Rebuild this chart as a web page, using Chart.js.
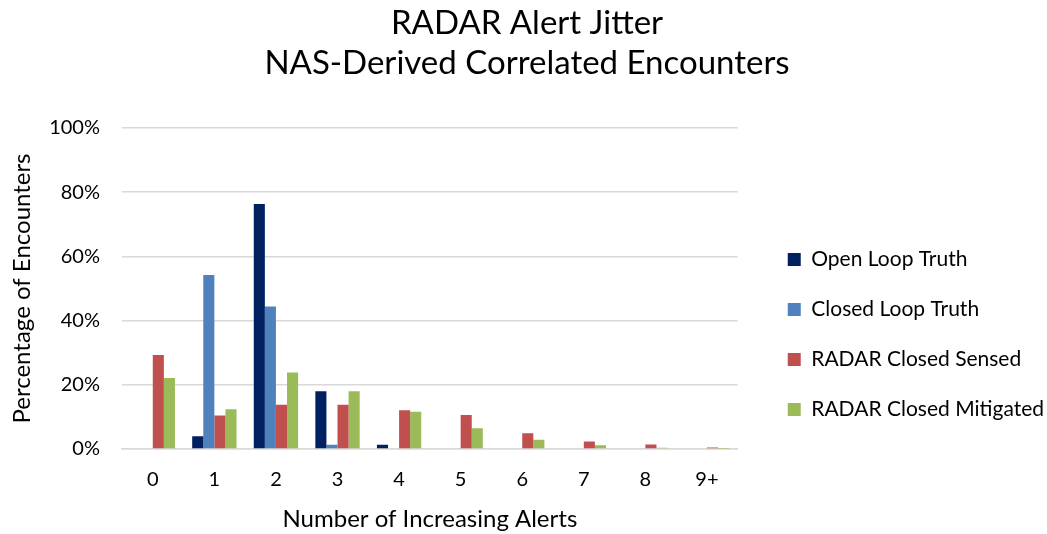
<!DOCTYPE html>
<html>
<head>
<meta charset="utf-8">
<script src="https://cdn.jsdelivr.net/npm/chart.js@4/dist/chart.umd.min.js"></script>
<style>
  html, body { margin: 0; padding: 0; background: #fff; }
  #wrap { width: 1047px; height: 534px; }
</style>
</head>
<body>
<div id="wrap"><canvas id="chart" width="1047" height="534"></canvas></div>
<script>
// ---- Data ----
const categories = ['0', '1', '2', '3', '4', '5', '6', '7', '8', '9+'];
const openLoopTruth = [0, 4.0, 76.3, 18.0, 1.3, 0, 0, 0, 0, 0];
const closedLoopTruth = [0, 54.2, 44.4, 1.3, 0, 0, 0, 0, 0, 0];
const radarClosedSensed = [29.3, 10.4, 13.8, 13.8, 12.1, 10.6, 4.9, 2.3, 1.4, 0.5];
const radarClosedMitigated = [22.1, 12.4, 23.8, 18.0, 11.6, 6.5, 2.9, 1.2, 0.4, 0.1];
const yTicks = [0, 20, 40, 60, 80, 100];

const FONT = 'Lato, "Noto Sans", sans-serif';
const GRID = '#d9d9d9';

const datasets = [
  { label: 'Open Loop Truth', data: openLoopTruth, backgroundColor: '#002060' },
  { label: 'Closed Loop Truth', data: closedLoopTruth, backgroundColor: '#4F81BD' },
  { label: 'RADAR Closed Sensed', data: radarClosedSensed, backgroundColor: '#C0504D' },
  { label: 'RADAR Closed Mitigated', data: radarClosedMitigated, backgroundColor: '#9BBB59' }
].map(d => ({ ...d, yAxisID: 'y', barPercentage: 1.0, categoryPercentage: 0.72, borderWidth: 0 }));

new Chart(document.getElementById('chart'), {
  type: 'bar',
  data: { labels: categories, datasets },
  options: {
    responsive: false,
    animation: false,
    layout: { padding: { left: 0, right: -7, top: 0, bottom: 0 } },
    plugins: {
      title: {
        display: true,
        text: ['RADAR Alert Jitter', 'NAS-Derived Correlated Encounters'],
        color: '#000',
        font: { family: FONT, size: 33, weight: 'normal', lineHeight: 40 / 33 },
        padding: { top: 3, bottom: 45 }
      },
      legend: {
        position: 'right',
        align: 'start',
        maxWidth: 400,
        // empty title only pushes the items down
        title: { display: true, text: '', font: { size: 10, lineHeight: 1 }, padding: { top: 210, bottom: 0 } },
        labels: {
          color: '#000',
          font: { family: FONT, size: 21 },
          boxWidth: 13,
          boxHeight: 13,
          padding: 29
        }
      },
      tooltip: { enabled: false }
    },
    scales: {
      x: {
        grid: { display: false },
        border: { color: GRID, width: 1.5 },
        ticks: { color: '#000', font: { family: FONT, size: 20 }, padding: 11 },
        title: {
          display: true,
          text: 'Number of Increasing Alerts',
          color: '#000',
          font: { family: FONT, size: 24 },
          padding: { top: 0, bottom: 0 }
        },
        afterFit: axis => { axis.height = 85; }
      },
      y: {
        min: 0,
        max: 100,
        afterBuildTicks: axis => { axis.ticks = yTicks.map(v => ({ value: v })); },
        grid: { color: GRID, lineWidth: 1.5, drawTicks: false },
        border: { display: false },
        ticks: {
          color: '#000',
          font: { family: FONT, size: 20 },
          padding: 22,
          callback: v => v + '%'
        },
        title: {
          display: true,
          text: 'Percentage of Encounters',
          color: '#000',
          font: { family: FONT, size: 24 },
          padding: { top: 8, bottom: 0 }
        },
        afterFit: axis => { axis.width = 122; }
      },
      // empty spacer between plot and legend
      gap: {
        position: 'right',
        grid: { display: false },
        border: { display: false },
        ticks: { display: false },
        afterFit: axis => { axis.width = 21; }
      }
    }
  }
});
</script>
</body>
</html>
